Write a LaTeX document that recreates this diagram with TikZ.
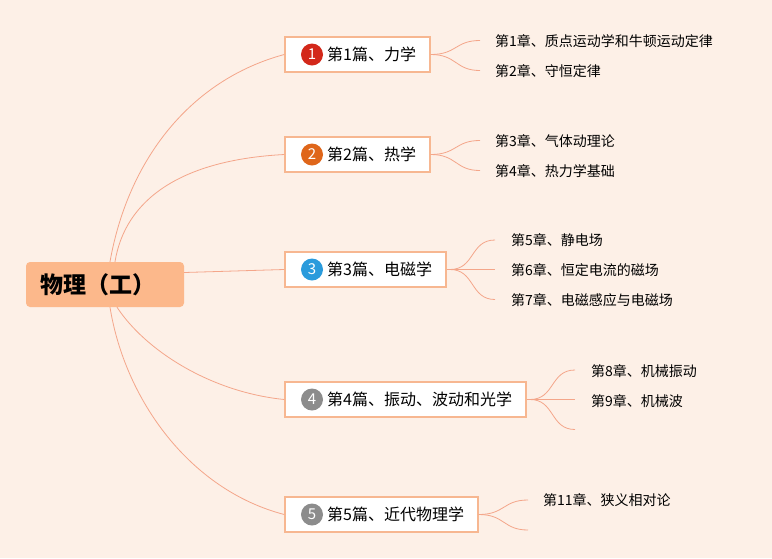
\documentclass[tikz,border=0pt]{standalone}
\usepackage{fontspec}
\setmainfont{Noto Sans CJK SC}
\definecolor{bg}{HTML}{FDF0E7}
\definecolor{rootc}{HTML}{FCB88B}
\definecolor{bc}{HTML}{F7B791}
\definecolor{lc}{HTML}{F4A68A}
\definecolor{n1}{HTML}{D3281A}
\definecolor{n2}{HTML}{DF661A}
\definecolor{n3}{HTML}{2A9BDC}
\definecolor{n4}{HTML}{8C8C8C}
\begin{document}
\begin{tikzpicture}[x=1pt,y=-1pt,
  conn/.style={draw=lc, line width=0.8pt},
  lvl/.style={draw=bc, line width=1.5pt, fill=white, minimum height=35pt, inner sep=0pt},
  num/.style={circle, minimum size=22pt, inner sep=0pt, text=white, font=\fontsize{15}{15}\selectfont},
  lt/.style={anchor=west, inner sep=0pt, font=\fontsize{16}{16}\selectfont},
  ct/.style={anchor=west, inner sep=0pt, font=\fontsize{14}{14}\selectfont}]
\fill[bg] (0,0) rectangle (772,558);
\useasboundingbox (0,0) rectangle (772,558);

% root
\node[fill=rootc, rounded corners=4pt, minimum width=158pt, minimum height=45pt, inner sep=0pt] (root) at (105,284.5) {};
\node[anchor=west, inner sep=0pt, font=\fontsize{23}{23}\selectfont\bfseries] (roott) at (40,285) {物理（工）};

% level 1 boxes
\node[lvl, minimum width=145pt] (b1) at (357.5,54.5) {};
\node[num, fill=n1] (c1) at (312,54.5) {1};
\node[lt] (t1) at (327,54.5) {第1篇、力学};

\node[lvl, minimum width=145pt] (b2) at (357.5,154.5) {};
\node[num, fill=n2] (c2) at (312,154.5) {2};
\node[lt] (t2) at (327,154.5) {第2篇、热学};

\node[lvl, minimum width=161pt] (b3) at (365.5,269.5) {};
\node[num, fill=n3] (c3) at (312,269.5) {3};
\node[lt] (t3) at (327,269.5) {第3篇、电磁学};

\node[lvl, minimum width=241pt] (b4) at (405.5,399.5) {};
\node[num, fill=n4] (c4) at (312,399.5) {4};
\node[lt] (t4) at (327,399.5) {第4篇、振动、波动和光学};

\node[lvl, minimum width=193pt] (b5) at (381.5,514.5) {};
\node[num, fill=n4] (c5) at (312,514.5) {5};
\node[lt] (t5) at (327,514.5) {第5篇、近代物理学};

% root connectors
\draw[conn] ([xshift=5pt]root.north) .. controls (128,160) and (190,80) .. (b1.west);
\draw[conn] ([xshift=10pt]root.north) .. controls (125,200) and (180,160) .. (b2.west);
\draw[conn] ([yshift=12pt]root.east) -- (b3.west);
\draw[conn] ([xshift=12pt]root.south) .. controls (145,350) and (210,392) .. (b4.west);
\draw[conn] ([xshift=5pt]root.south) .. controls (125,400) and (190,490) .. (b5.west);

% chapter endpoints and texts
\coordinate (e11) at (480,40.5);
\coordinate (e12) at (480,70.5);
\node[ct] (s11) at (495,41) {第1章、质点运动学和牛顿运动定律};
\node[ct] (s12) at (495,71) {第2章、守恒定律};
\draw[conn] (b1.east) .. controls (457,54.5) and (455,40.5) .. (e11);
\draw[conn] (b1.east) .. controls (457,54.5) and (455,70.5) .. (e12);

\coordinate (e21) at (480,140.5);
\coordinate (e22) at (480,170.5);
\node[ct] (s21) at (495,141) {第3章、气体动理论};
\node[ct] (s22) at (495,171) {第4章、热力学基础};
\draw[conn] (b2.east) .. controls (457,154.5) and (455,140.5) .. (e21);
\draw[conn] (b2.east) .. controls (457,154.5) and (455,170.5) .. (e22);

\coordinate (j3) at (450,269.5);
\coordinate (e31) at (495,240);
\coordinate (e32) at (495,269.5);
\coordinate (e33) at (495,299.5);
\node[ct] (s31) at (511,240.5) {第5章、静电场};
\node[ct] (s32) at (511,270) {第6章、恒定电流的磁场};
\node[ct] (s33) at (511,300) {第7章、电磁感应与电磁场};
\draw[conn] (b3.east) -- (j3);
\draw[conn] (j3) .. controls (475,269.5) and (470,240) .. (e31);
\draw[conn] (j3) -- (e32);
\draw[conn] (j3) .. controls (475,269.5) and (470,299.5) .. (e33);

\coordinate (j4) at (530,399.5);
\coordinate (e41) at (575,370);
\coordinate (e42) at (575,399.5);
\coordinate (e43) at (575,429.5);
\node[ct] (s41) at (591,371) {第8章、机械振动};
\node[ct] (s42) at (591,401) {第9章、机械波};
\draw[conn] (b4.east) -- (j4);
\draw[conn] (j4) .. controls (555,399.5) and (550,370) .. (e41);
\draw[conn] (j4) -- (e42);
\draw[conn] (j4) .. controls (555,399.5) and (550,429.5) .. (e43);

\coordinate (e51) at (528,500);
\coordinate (e52) at (528,530);
\node[ct] (s51) at (543,500.5) {第11章、狭义相对论};
\draw[conn] (b5.east) .. controls (505,514.5) and (503,500) .. (e51);
\draw[conn] (b5.east) .. controls (505,514.5) and (503,530) .. (e52);
\end{tikzpicture}
\end{document}
